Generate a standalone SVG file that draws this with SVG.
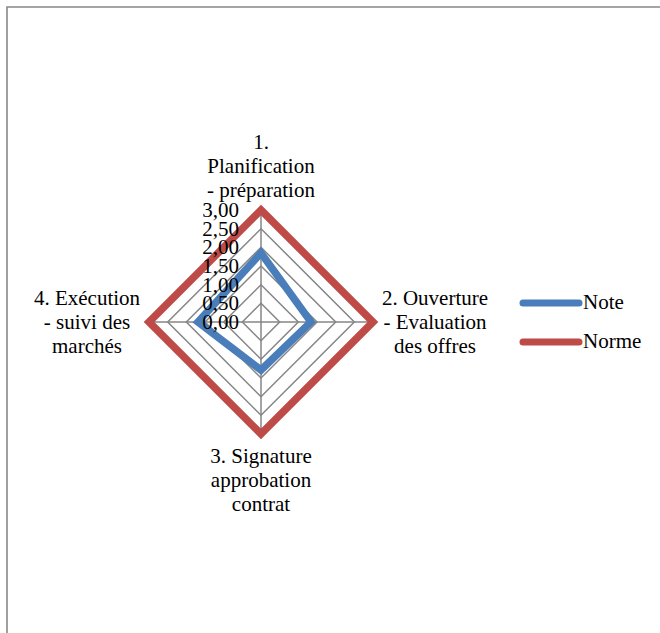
<svg xmlns="http://www.w3.org/2000/svg" width="660" height="633" viewBox="0 0 660 633">
<style>
.t{font-size:21px;fill:#000}
.grid{fill:none;stroke:#868686;stroke-width:1.5}
.ser{fill:none;stroke-width:7.5;stroke-linejoin:miter}
.mid{text-anchor:middle}
.end{text-anchor:end}
</style>
<rect width="660" height="633" fill="#fff"/>
<path d="M7,633 V7 H660" fill="none" stroke="#888" stroke-width="1.6"/>
<g id="grid">
<path class="grid" d="M261,210 V434 M149,322 H373"/>
<polygon class="grid" points="261,303.3 279.7,322 261,340.7 242.3,322"/>
<polygon class="grid" points="261,284.7 298.3,322 261,359.3 223.7,322"/>
<polygon class="grid" points="261,266 317,322 261,378 205,322"/>
<polygon class="grid" points="261,247.3 335.7,322 261,396.7 186.3,322"/>
<polygon class="grid" points="261,228.7 354.3,322 261,415.3 167.7,322"/>
<polygon class="grid" points="261,210 373,322 261,434 149,322"/>
</g>
<g id="connectors">
<polygon id="series-norme" class="ser" stroke="#BE4B48" points="261,210 373,322 261,434 149,322"/>
<polygon id="series-note" class="ser" stroke="#4A7EBB" points="261,253 311,322 261,370 198,322"/>
</g>
<g font-family="'Liberation Serif', 'DejaVu Serif', serif" class="t">
<g id="value-axis">
<text x="239" y="329" class="end">0,00</text>
<text x="239" y="310.3" class="end">0,50</text>
<text x="239" y="291.7" class="end">1,00</text>
<text x="239" y="273" class="end">1,50</text>
<text x="239" y="254.3" class="end">2,00</text>
<text x="239" y="235.7" class="end">2,50</text>
<text x="239" y="217" class="end">3,00</text>
</g>
<g id="cat1"><text class="mid" x="261" y="149">1.</text><text class="mid" x="261" y="173">Planification</text><text class="mid" x="261" y="197">- préparation</text></g>
<g id="cat2"><text class="mid" x="435" y="305">2. Ouverture</text><text class="mid" x="435" y="329">- Evaluation</text><text class="mid" x="435" y="353">des offres</text></g>
<g id="cat3"><text class="mid" x="261" y="463">3. Signature</text><text class="mid" x="261" y="487">approbation</text><text class="mid" x="261" y="511">contrat</text></g>
<g id="cat4"><text class="mid" x="87" y="305">4. Exécution</text><text class="mid" x="87" y="329">- suivi des</text><text class="mid" x="87" y="353">marchés</text></g>
<g id="legend">
<line x1="523" y1="303" x2="579" y2="303" stroke="#4A7EBB" stroke-width="7" stroke-linecap="round"/>
<text x="583" y="309">Note</text>
<line x1="523" y1="342" x2="579" y2="342" stroke="#BE4B48" stroke-width="7" stroke-linecap="round"/>
<text x="583" y="348">Norme</text>
</g>
</g>
</svg>
